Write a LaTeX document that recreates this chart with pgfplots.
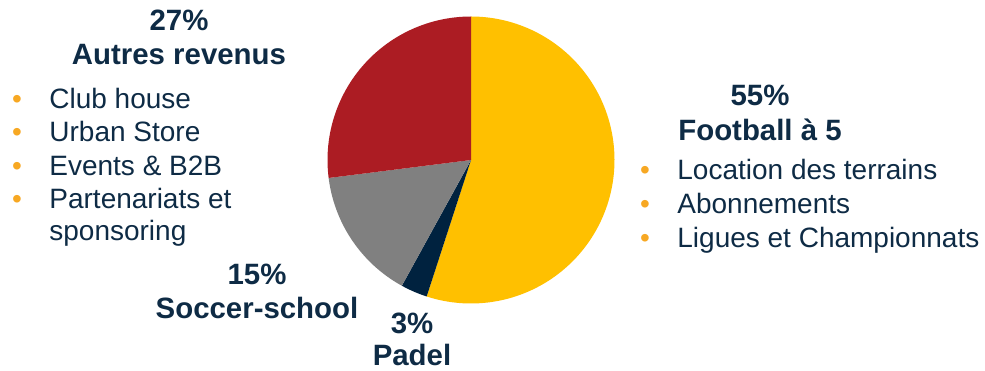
\documentclass[border=0pt]{standalone}
\usepackage{pgfplots}
\pgfplotsset{compat=1.18}
\usepackage{fontspec}
\setmainfont{Liberation Sans}
\definecolor{gold}{HTML}{FFC000}
\definecolor{navy}{HTML}{00223F}
\definecolor{greyslice}{HTML}{808080}
\definecolor{redslice}{HTML}{AC1C23}
\definecolor{txt}{HTML}{0E2B45}
\definecolor{bul}{HTML}{F7A823}
\tikzset{
  lbl/.style={inner sep=0pt, text=txt, font=\fontsize{14pt}{16.8pt}\selectfont},
  bld/.style={inner sep=0pt, text=txt, anchor=base, font=\fontsize{14.7pt}{17.6pt}\selectfont\bfseries},
  bl/.style={inner sep=0pt, text=bul, anchor=base, font=\fontsize{14pt}{16.8pt}\selectfont},
}
\begin{document}
\begin{tikzpicture}
\begin{axis}[
  scale only axis, width=492.5pt, height=185pt,
  xmin=0, xmax=985, ymin=0, ymax=370,
  axis lines=none, clip=false,
]
% shares (cumulative percent): Football 0-55, Padel 55-58, Soccer-school 58-73, Autres 73-100
\addplot[fill=gold, draw=none, domain=0:55, samples=120, variable=\p]
  ({471+143.5*sin(\p*3.6)}, {210+143.5*cos(\p*3.6)}) -- (axis cs:471,210) -- cycle;
\addplot[fill=navy, draw=none, domain=55:58, samples=10, variable=\p]
  ({471+143.5*sin(\p*3.6)}, {210+143.5*cos(\p*3.6)}) -- (axis cs:471,210) -- cycle;
\addplot[fill=greyslice, draw=none, domain=58:73, samples=40, variable=\p]
  ({471+143.5*sin(\p*3.6)}, {210+143.5*cos(\p*3.6)}) -- (axis cs:471,210) -- cycle;
\addplot[fill=redslice, draw=none, domain=73:100, samples=60, variable=\p]
  ({471+143.5*sin(\p*3.6)}, {210+143.5*cos(\p*3.6)}) -- (axis cs:471,210) -- cycle;

% Autres revenus
\node[bld] at (axis cs:179,339) {27\%};
\node[bld] at (axis cs:179,305) {Autres revenus};
\node[bl] at (axis cs:17,261) {•};
\node[lbl, anchor=base west] at (axis cs:49,261) {Club house};
\node[bl] at (axis cs:17,228) {•};
\node[lbl, anchor=base west] at (axis cs:49,228) {Urban Store};
\node[bl] at (axis cs:17,194) {•};
\node[lbl, anchor=base west] at (axis cs:49,194) {Events \& B2B};
\node[bl] at (axis cs:17,161) {•};
\node[lbl, anchor=base west] at (axis cs:49,161) {Partenariats et};
\node[lbl, anchor=base west] at (axis cs:49,129) {sponsoring};
% Football
\node[bld] at (axis cs:760,264) {55\%};
\node[bld] at (axis cs:760,229) {Football à 5};
\node[bl] at (axis cs:645,190) {•};
\node[lbl, anchor=base west] at (axis cs:677,190) {Location des terrains};
\node[bl] at (axis cs:645,156) {•};
\node[lbl, anchor=base west] at (axis cs:677,156) {Abonnements};
\node[bl] at (axis cs:645,122) {•};
\node[lbl, anchor=base west] at (axis cs:677,122) {Ligues et Championnats};
% Soccer-school
\node[bld] at (axis cs:257,85) {15\%};
\node[bld] at (axis cs:257,52) {Soccer-school};
% Padel
\node[bld] at (axis cs:412,37) {3\%};
\node[bld] at (axis cs:412,4) {Padel};
\end{axis}
\pgfresetboundingbox
\path (0,0) rectangle (492.5pt,185pt);
\end{tikzpicture}
\end{document}
